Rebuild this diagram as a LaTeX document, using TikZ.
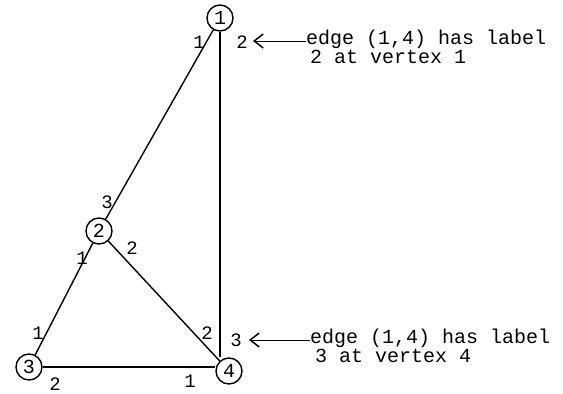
\documentclass[tikz,border=0pt]{standalone}
\usepackage{fontspec}
\setmainfont{Liberation Mono}
\usetikzlibrary{arrows.meta}
\begin{document}
\begin{tikzpicture}[x=1pt,y=-1pt,
  vtx/.style={draw,circle,line width=1.4pt,minimum size=26pt,inner sep=0pt,font=\fontsize{20}{20}\selectfont},
  edg/.style={line width=1.4pt},
  lbl/.style={inner sep=0pt,font=\fontsize{19}{19}\selectfont},
  note/.style={anchor=base west,align=left,inner sep=0pt,font=\fontsize{20}{17}\selectfont},
  pointer/.style={line width=0.9pt,-{Straight Barb[length=9pt,width=14pt,line width=1.5pt]}}]
\useasboundingbox (0,0) rectangle (563,394);
% vertices
\node[vtx] (v1) at (220,18) {1};
\node[vtx] (v2) at (99,231) {2};
\node[vtx] (v3) at (29,367) {3};
\node[vtx] (v4) at (229,371) {4};
% edges
\draw[edg] (v1) -- (v2);
\draw[edg] (v2) -- (v3);
\draw[edg] (v2) -- (v4);
\draw[edg] (v3.east) -- (v3.east -| v4.west);
\draw[edg] (v1.south) -- (v1.south |- v4.north);
% edge labels
\node[lbl] (l11) at (199,42) {1};
\node[lbl] (l12) at (242,42) {2};
\node[lbl] (l23) at (107,202) {3};
\node[lbl] (l21) at (82,258) {1};
\node[lbl] (l22) at (132,248) {2};
\node[lbl] (l31) at (38,333) {1};
\node[lbl] (l32) at (55,384) {2};
\node[lbl] (l42) at (207,333) {2};
\node[lbl] (l41) at (190,381) {1};
\node[lbl] (l43) at (236,340) {3};
% notes
\node[note] (t1) at (306,63) {edge (1,4) has label\\\hspace*{4pt}2 at vertex 1};
\node[note] (t2) at (310,362) {edge (1,4) has label\\\hspace*{5pt}3 at vertex 4};
\coordinate (a1) at (253,41);
\coordinate (a2) at (249,340);
\draw[pointer] (t1.west |- a1) -- (a1);
\draw[pointer] (t2.west |- a2) -- (a2);
\end{tikzpicture}
\end{document}
